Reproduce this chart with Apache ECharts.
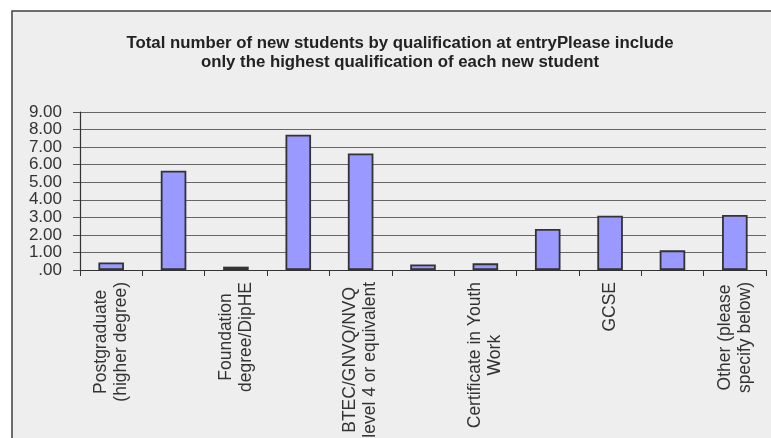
<!DOCTYPE html>
<html>
<head>
<meta charset="utf-8">
<script src="https://cdn.jsdelivr.net/npm/echarts@6/dist/echarts.min.js"></script>
<style>
  html, body { margin: 0; padding: 0; background: #ffffff; }
  #chart { width: 771px; height: 438px; }
</style>
</head>
<body>
<div id="chart"></div>
<script>
// Qualification categories (only every other one carries a visible label)
const categories = [
  'Postgraduate\n(higher degree)',
  'First degree',
  'Foundation\ndegree/DipHE',
  'HND/HNC',
  'BTEC/GNVQ/NVQ\nlevel 4 or equivalent',
  'A level/NVQ level 3',
  'Certificate in Youth\nWork',
  'NVQ level 2',
  'GCSE',
  'No formal qualifications',
  'Other (please\nspecify below)'
];

// Number of new students per qualification
const students = [0.43, 5.66, 0.19, 7.71, 6.64, 0.32, 0.38, 2.34, 3.09, 1.12, 3.13];

// Value axis ticks
const yMin = 0;
const yMax = 9;
const yStep = 1;

const titleLines = [
  'Total number of new students by qualification at entryPlease include',
  'only the highest qualification of each new student'
];

const chart = echarts.init(document.getElementById('chart'), null, { renderer: 'canvas' });

const labelFont = 'Liberation Sans, Arial, sans-serif';
const labelSize = 17.5;
const valueLabelSize = 17;

chart.setOption({
  backgroundColor: '#ffffff',
  animation: false,
  graphic: [
    {
      type: 'rect',
      z: -10,
      shape: { x: 12, y: 11, width: 820, height: 480 },
      style: { fill: '#eeeeee', stroke: '#404040', lineWidth: 1.5 }
    }
  ],
  title: {
    text: titleLines.join('\n'),
    left: 395,
    top: 29,
    textAlign: 'center',
    textStyle: {
      fontFamily: labelFont,
      fontWeight: 'bold',
      fontSize: 16.8,
      lineHeight: 19,
      color: '#222222'
    }
  },
  grid: {
    left: 80,
    right: 5,
    top: 112,
    bottom: 168,
    containLabel: false,
    outerBoundsMode: 'none'
  },
  xAxis: {
    type: 'category',
    data: categories,
    axisLine: { show: true, lineStyle: { color: '#333333', width: 1.2 } },
    axisTick: {
      show: true,
      interval: 0,
      alignWithLabel: false,
      length: 6,
      inside: false,
      lineStyle: { color: '#333333', width: 1 }
    },
    axisLabel: {
      interval: 1,
      rotate: 90,
      margin: 12,
      hideOverlap: false,
      fontFamily: labelFont,
      fontSize: labelSize,
      lineHeight: 20,
      color: '#333333',
      formatter: function (v) {
        return v.split('\n').map(function (s) { return '{c|' + s + '}'; }).join('\n');
      },
      rich: {
        c: {
          align: 'center',
          fontFamily: labelFont,
          fontSize: labelSize,
          lineHeight: 20,
          color: '#333333'
        }
      }
    },
    splitLine: { show: false }
  },
  yAxis: {
    type: 'value',
    min: yMin,
    max: yMax,
    interval: yStep,
    axisLine: { show: true, lineStyle: { color: '#333333', width: 1.2 } },
    axisTick: { show: true, length: 7, lineStyle: { color: '#555555' } },
    axisLabel: {
      margin: 18,
      showMinLabel: true,
      showMaxLabel: true,
      fontFamily: labelFont,
      fontSize: valueLabelSize,
      color: '#333333',
      formatter: function (v) {
        return v === 0 ? '.00' : v.toFixed(2);
      }
    },
    splitLine: { show: true, lineStyle: { color: '#666666', width: 1 } }
  },
  series: [
    {
      type: 'bar',
      data: students,
      barWidth: '41%',
      itemStyle: {
        color: '#9999ff',
        borderColor: '#333333',
        borderWidth: 1.8
      }
    }
  ]
});
</script>
</body>
</html>
